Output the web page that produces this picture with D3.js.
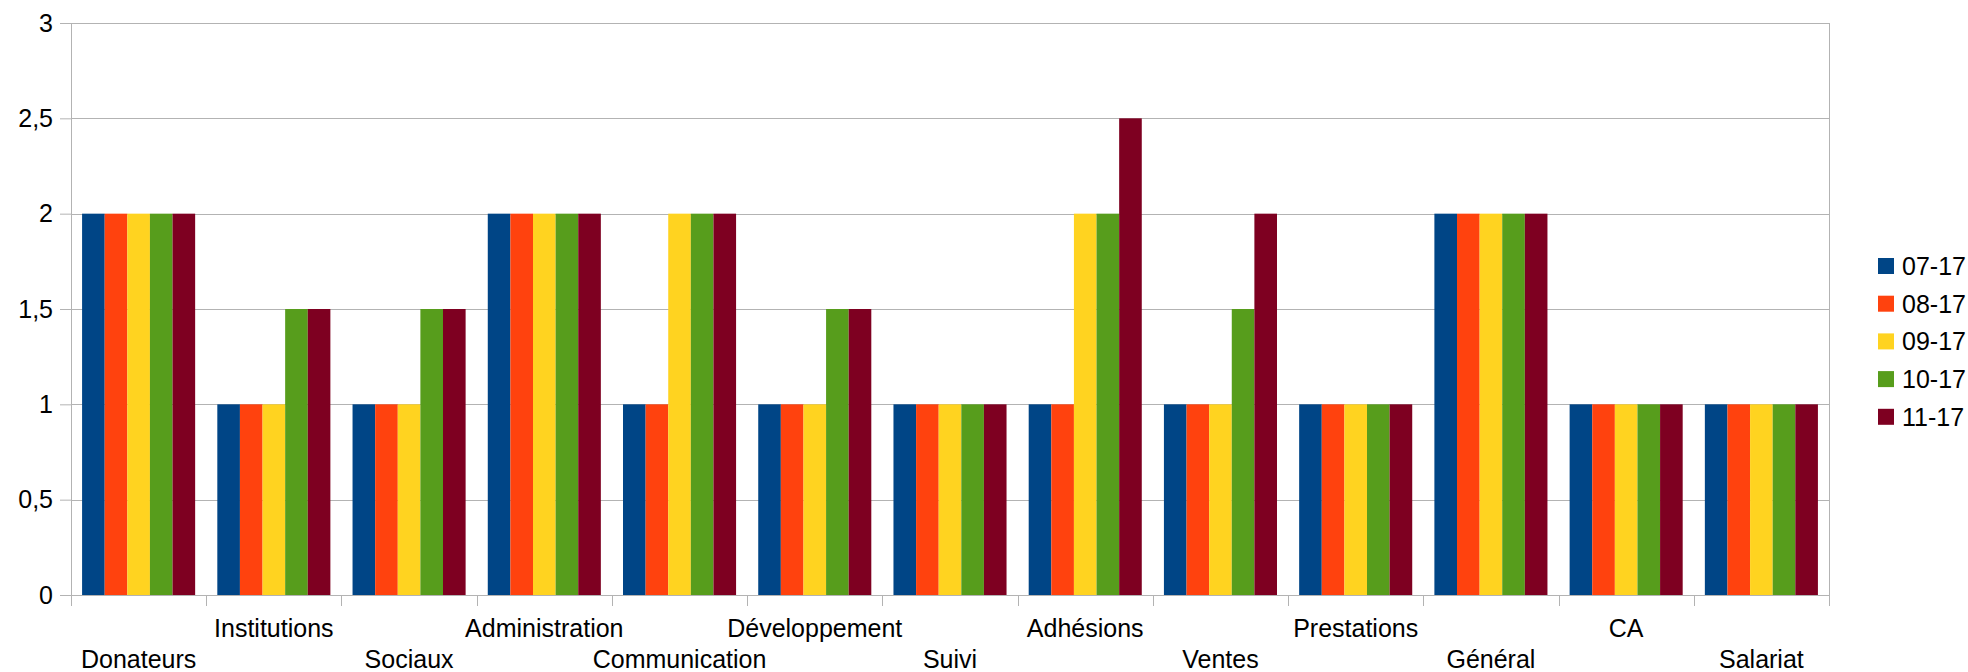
<!DOCTYPE html>
<html>
<head>
<meta charset="utf-8">
<script src="https://cdn.jsdelivr.net/npm/d3@7"></script>
<style>
  body { margin: 0; background: #fff; }
  svg { display: block; font-family: "Liberation Sans", Arial, sans-serif; }
</style>
</head>
<body>
<div id="chart"></div>
<script>
var categories = ["Donateurs", "Institutions", "Sociaux", "Administration", "Communication",
    "Développement", "Suivi", "Adhésions", "Ventes", "Prestations", "Général", "CA", "Salariat"];
var seriesNames = ["07-17", "08-17", "09-17", "10-17", "11-17"];
var s0717 = [2, 1, 1, 2, 1, 1, 1, 1, 1, 1, 2, 1, 1];
var s0817 = [2, 1, 1, 2, 1, 1, 1, 1, 1, 1, 2, 1, 1];
var s0917 = [2, 1, 1, 2, 2, 1, 1, 2, 1, 1, 2, 1, 1];
var s1017 = [2, 1.5, 1.5, 2, 2, 1.5, 1, 2, 1.5, 1, 2, 1, 1];
var s1117 = [2, 1.5, 1.5, 2, 2, 1.5, 1, 2.5, 2, 1, 2, 1, 1];
var yTicks = [0, 0.5, 1, 1.5, 2, 2.5, 3];

var colors = ["#004586", "#ff420e", "#ffd320", "#579d1c", "#7e0021"];
var series = [s0717, s0817, s0917, s1017, s1117];

var width = 1968
var height = 672
var margin = { top: 23, bottom: 77, left: 71, right: 139 };
var fontSize = 25;

var svg = d3.select("#chart").append("svg")
    .attr("width", width)
    .attr("height", height);

var x = d3.scaleBand()
    .domain(categories)
    .range([margin.left, width - margin.right]);

// bars inside each category
var inner = d3.scaleBand()
    .domain(seriesNames)
    .range([0, x.bandwidth()])
    .paddingOuter(0.49);

var y = d3.scaleLinear()
    .domain([0, 3])
    .range([height - margin.bottom, margin.top]);

// gridlines
svg.append("g")
    .selectAll("line")
    .data(yTicks)
    .enter().append("line")
    .attr("x1", margin.left)
    .attr("x2", width - margin.right)
    .attr("y1", function(d) { return Math.round(y(d)) + 0.5; })
    .attr("y2", function(d) { return Math.round(y(d)) + 0.5; })
    .attr("stroke", "#b3b3b3")
    .attr("stroke-width", 1);

// right border
svg.append("line")
    .attr("x1", width - margin.right + 0.5)
    .attr("x2", width - margin.right + 0.5)
    .attr("y1", y(3))
    .attr("y2", y(0))
    .attr("stroke", "#b3b3b3");

// bars
var groups = svg.append("g")
    .selectAll("g")
    .data(series)
    .enter().append("g")
    .attr("fill", function(d, i) { return colors[i]; });

groups.selectAll("rect")
    .data(function(d, i) {
        return d.map(function(v, j) { return { c: categories[j], s: seriesNames[i], v: v }; });
    })
    .enter().append("rect")
    .attr("x", function(d) { return x(d.c) + inner(d.s); })
    .attr("width", inner.bandwidth())
    .attr("y", function(d) { return y(d.v); })
    .attr("height", function(d) { return y(0) - y(d.v); });

// y axis
var yAxis = svg.append("g")
    .attr("transform", "translate(" + margin.left + ",0)")
    .call(d3.axisLeft(y).tickValues(yTicks).tickSize(11).tickPadding(7)
        .tickFormat(function(d) { return String(d).replace(".", ","); }));
yAxis.select(".domain").attr("stroke", "#b3b3b3").attr("d", "M0.5," + y(3) + "V" + (y(0) + 11));
yAxis.selectAll(".tick line").attr("stroke", "#b3b3b3");
yAxis.selectAll(".tick text").attr("font-size", fontSize).attr("fill", "#000")
    .attr("font-family", "Liberation Sans, Arial, sans-serif");

// x axis
var xAxis = svg.append("g")
    .attr("transform", "translate(0," + y(0) + ")")
    .call(d3.axisBottom(x).tickSize(0).tickFormat(""));
xAxis.select(".domain").attr("stroke", "#b3b3b3").attr("d", "M" + margin.left + ",0.5H" + (width - margin.right + 0.5));

var boundaries = categories.map(function(c) { return x(c); }).concat([width - margin.right]);
xAxis.selectAll(".sep")
    .data(boundaries)
    .enter().append("line")
    .attr("class", "sep")
    .attr("x1", function(d) { return Math.round(d) + 0.5; })
    .attr("x2", function(d) { return Math.round(d) + 0.5; })
    .attr("y1", 0)
    .attr("y2", 11)
    .attr("stroke", "#b3b3b3");

// category labels, staggered on two rows
svg.append("g")
    .selectAll("text")
    .data(categories)
    .enter().append("text")
    .attr("x", function(d) { return x(d) + x.bandwidth() / 2; })
    .attr("y", function(d, i) { return i % 2 === 0 ? 668 : 637; })
    .attr("text-anchor", "middle")
    .attr("font-size", fontSize)
    .attr("fill", "#000")
    .text(function(d) { return d; });

// legend
var legend = svg.append("g")
    .selectAll("g")
    .data(seriesNames)
    .enter().append("g")
    .attr("transform", function(d, i) { return "translate(1878," + (266 + i * 37.7) + ")"; });

legend.append("rect")
    .attr("x", 0)
    .attr("y", -8)
    .attr("width", 16)
    .attr("height", 16)
    .attr("fill", function(d, i) { return colors[i]; });

legend.append("text")
    .attr("x", 24)
    .attr("y", 9)
    .attr("font-size", fontSize)
    .attr("fill", "#000")
    .text(function(d) { return d; });
</script>
</body>
</html>
